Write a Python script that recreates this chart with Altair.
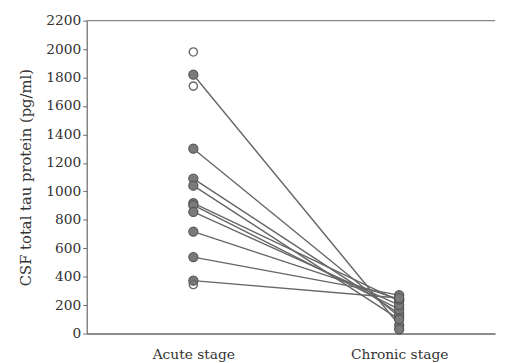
import altair as alt
import pandas as pd

# Paired patients: acute -> chronic CSF total tau (pg/ml)
acute_paired = [1820, 1300, 1090, 1040, 917, 903, 855, 717, 538, 372]
chronic_paired = [60, 120, 140, 100, 230, 170, 200, 240, 270, 250]
# Unpaired acute observations (open circles)
acute_open = [1980, 1740, 345]
# Unpaired chronic observation
chronic_single = [30]

stage_labels = ["Acute stage", "Chronic stage"]

rows = []
for i, (a, c) in enumerate(zip(acute_paired, chronic_paired)):
    rows.append({"id": i, "stage": 0, "value": a})
    rows.append({"id": i, "stage": 1, "value": c})
paired = pd.DataFrame(rows)
singles = pd.DataFrame({"stage": [1] * len(chronic_single), "value": chronic_single})
opens = pd.DataFrame({"stage": [0] * len(acute_open), "value": acute_open})
top = pd.DataFrame({"value": [2200]})

W, H = 415, 318
FONT = "DejaVu Serif"

xscale = alt.Scale(domain=[-0.518, 1.466], nice=False, zero=False)
yscale = alt.Scale(domain=[0, 2200], nice=False)

xaxis = alt.Axis(values=[0, 1], title=None, ticks=False, grid=False,
                 labelExpr="datum.value == 0 ? 'Acute stage' : (datum.value == 1 ? 'Chronic stage' : '')",
                 labelFont=FONT, labelFontSize=14, labelColor="#333", labelPadding=14,
                 domainColor="#666", domainWidth=1.5)
yaxis = alt.Axis(values=list(range(0, 2201, 200)), format="d", labelOverlap=False,
                 title="CSF total tau protein (pg/ml)",
                 grid=False, tickSize=4, tickColor="#666", domainColor="#666", domainWidth=1.2,
                 labelFont=FONT, labelFontSize=14, labelColor="#333", labelPadding=2,
                 titleFont=FONT, titleFontSize=15, titleFontWeight="normal", titleColor="#333",
                 titlePadding=13)

X = alt.X("stage:Q", scale=xscale, axis=xaxis)
Y = alt.Y("value:Q", scale=yscale, axis=yaxis)

lines = alt.Chart(paired).mark_line(color="#666", strokeWidth=1.4).encode(
    x=X, y=Y, detail="id:N",
)
pts = alt.Chart(paired).mark_point(filled=True, shape="circle", size=85, fill="#7a7a7a",
                                   stroke="#555", strokeWidth=1.2, opacity=1).encode(x=X, y=Y)
single_pts = alt.Chart(singles).mark_point(filled=True, shape="circle", size=85, fill="#7a7a7a",
                                           stroke="#555", strokeWidth=1.2, opacity=1).encode(x=X, y=Y)
open_pts = alt.Chart(opens).mark_point(filled=False, shape="circle", size=70, color="#666",
                                       strokeWidth=1.4, opacity=1).encode(x=X, y=Y)
top_rule = alt.Chart(top).mark_rule(color="#888", strokeWidth=1.2).encode(
    y=Y, x=alt.value(0), x2=alt.value(W),
)

chart = alt.layer(lines, pts, single_pts, open_pts, top_rule).properties(
    width=W, height=H,
    autosize=alt.AutoSizeParams(type="none"),
    padding={"left": 80, "top": 10, "right": 6, "bottom": 26},
).configure(background="white").configure_view(strokeWidth=0, stroke="transparent")

chart.save("out.html", embed_options={"renderer": "svg", "actions": False})
